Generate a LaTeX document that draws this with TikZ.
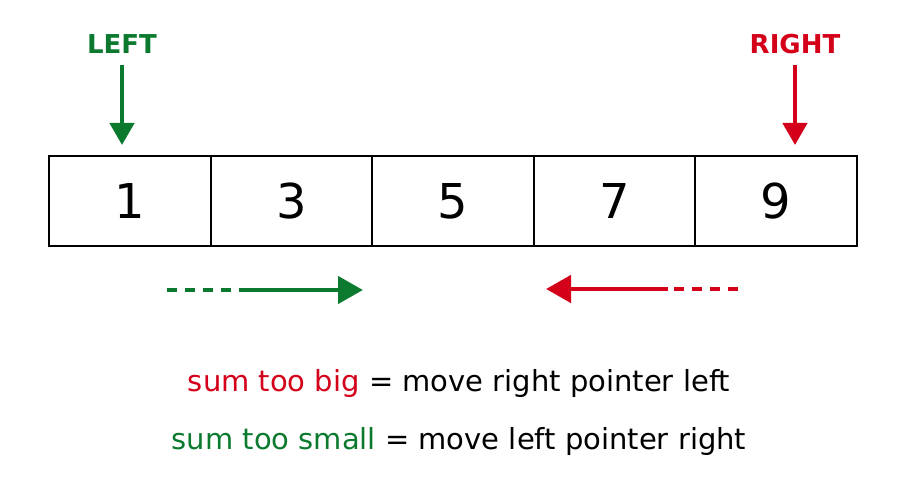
\documentclass[tikz,border=0pt]{standalone}
\usepackage{fontspec}
\setmainfont{DejaVu Sans}
\usetikzlibrary{positioning}
\usetikzlibrary{arrows.meta}

\definecolor{ptrgreen}{HTML}{0C7A2E}
\definecolor{ptrred}{HTML}{D4001A}

\tikzset{
    cell/.style={draw, line width=2pt, minimum width=161.6pt, minimum height=90pt,
        inner sep=0pt, font=\fontsize{48}{52}\selectfont},
    ptrlabel/.style={font=\fontsize{26}{30}\selectfont\bfseries},
    downptr/.style={line width=4.5pt, -{Triangle[length=22pt,width=24pt]}},
    moveptr/.style={line width=4.5pt, -{Triangle[length=25pt,width=27pt]}},
    trail/.style={line width=4.5pt, dash pattern=on 10pt off 8pt},
    rule/.style={font=\fontsize{29}{34}\selectfont}
}

\begin{document}
\begin{tikzpicture}[x=1pt, y=-1pt]
    \useasboundingbox (0,0) rectangle (900,500);

    \node[cell, anchor=north west] (c1) at (48,155) {1};
    \foreach \val [count=\i from 2, evaluate=\i as \prev using int(\i-1)] in {3,5,7,9}
        \node[cell, right=-2pt of c\prev] (c\i) {\val};

    \node[ptrlabel, text=ptrgreen] (leftlbl) at (122,44) {LEFT};
    \node[ptrlabel, text=ptrred] (rightlbl) at (795,44) {RIGHT};
    \draw[downptr, ptrgreen, shorten <=8pt, shorten >=10pt] (leftlbl.south) -- (leftlbl.south |- c1.north);
    \draw[downptr, ptrred, shorten <=8pt, shorten >=10pt] (rightlbl.south) -- (rightlbl.south |- c5.north);

    % pointer moves
    \coordinate (gstart) at (167,290);
    \coordinate (gsolid) at (240,290);
    \coordinate (gend) at (363,290);
    \draw[trail, ptrgreen] (gstart) -- (gsolid);
    \draw[moveptr, ptrgreen] (gsolid) -- (gend);

    \coordinate (rstart) at (738,289);
    \coordinate (rsolid) at (668,289);
    \coordinate (rend) at (546,289);
    \draw[trail, ptrred] (rstart) -- (rsolid);
    \draw[moveptr, ptrred] (rsolid) -- (rend);

    \node[rule] (bigrule) at (459,383) {\textcolor{ptrred}{sum too big} = move right pointer left};
    \node[rule] (smallrule) at (459,441) {\textcolor{ptrgreen}{sum too small} = move left pointer right};
\end{tikzpicture}
\end{document}
